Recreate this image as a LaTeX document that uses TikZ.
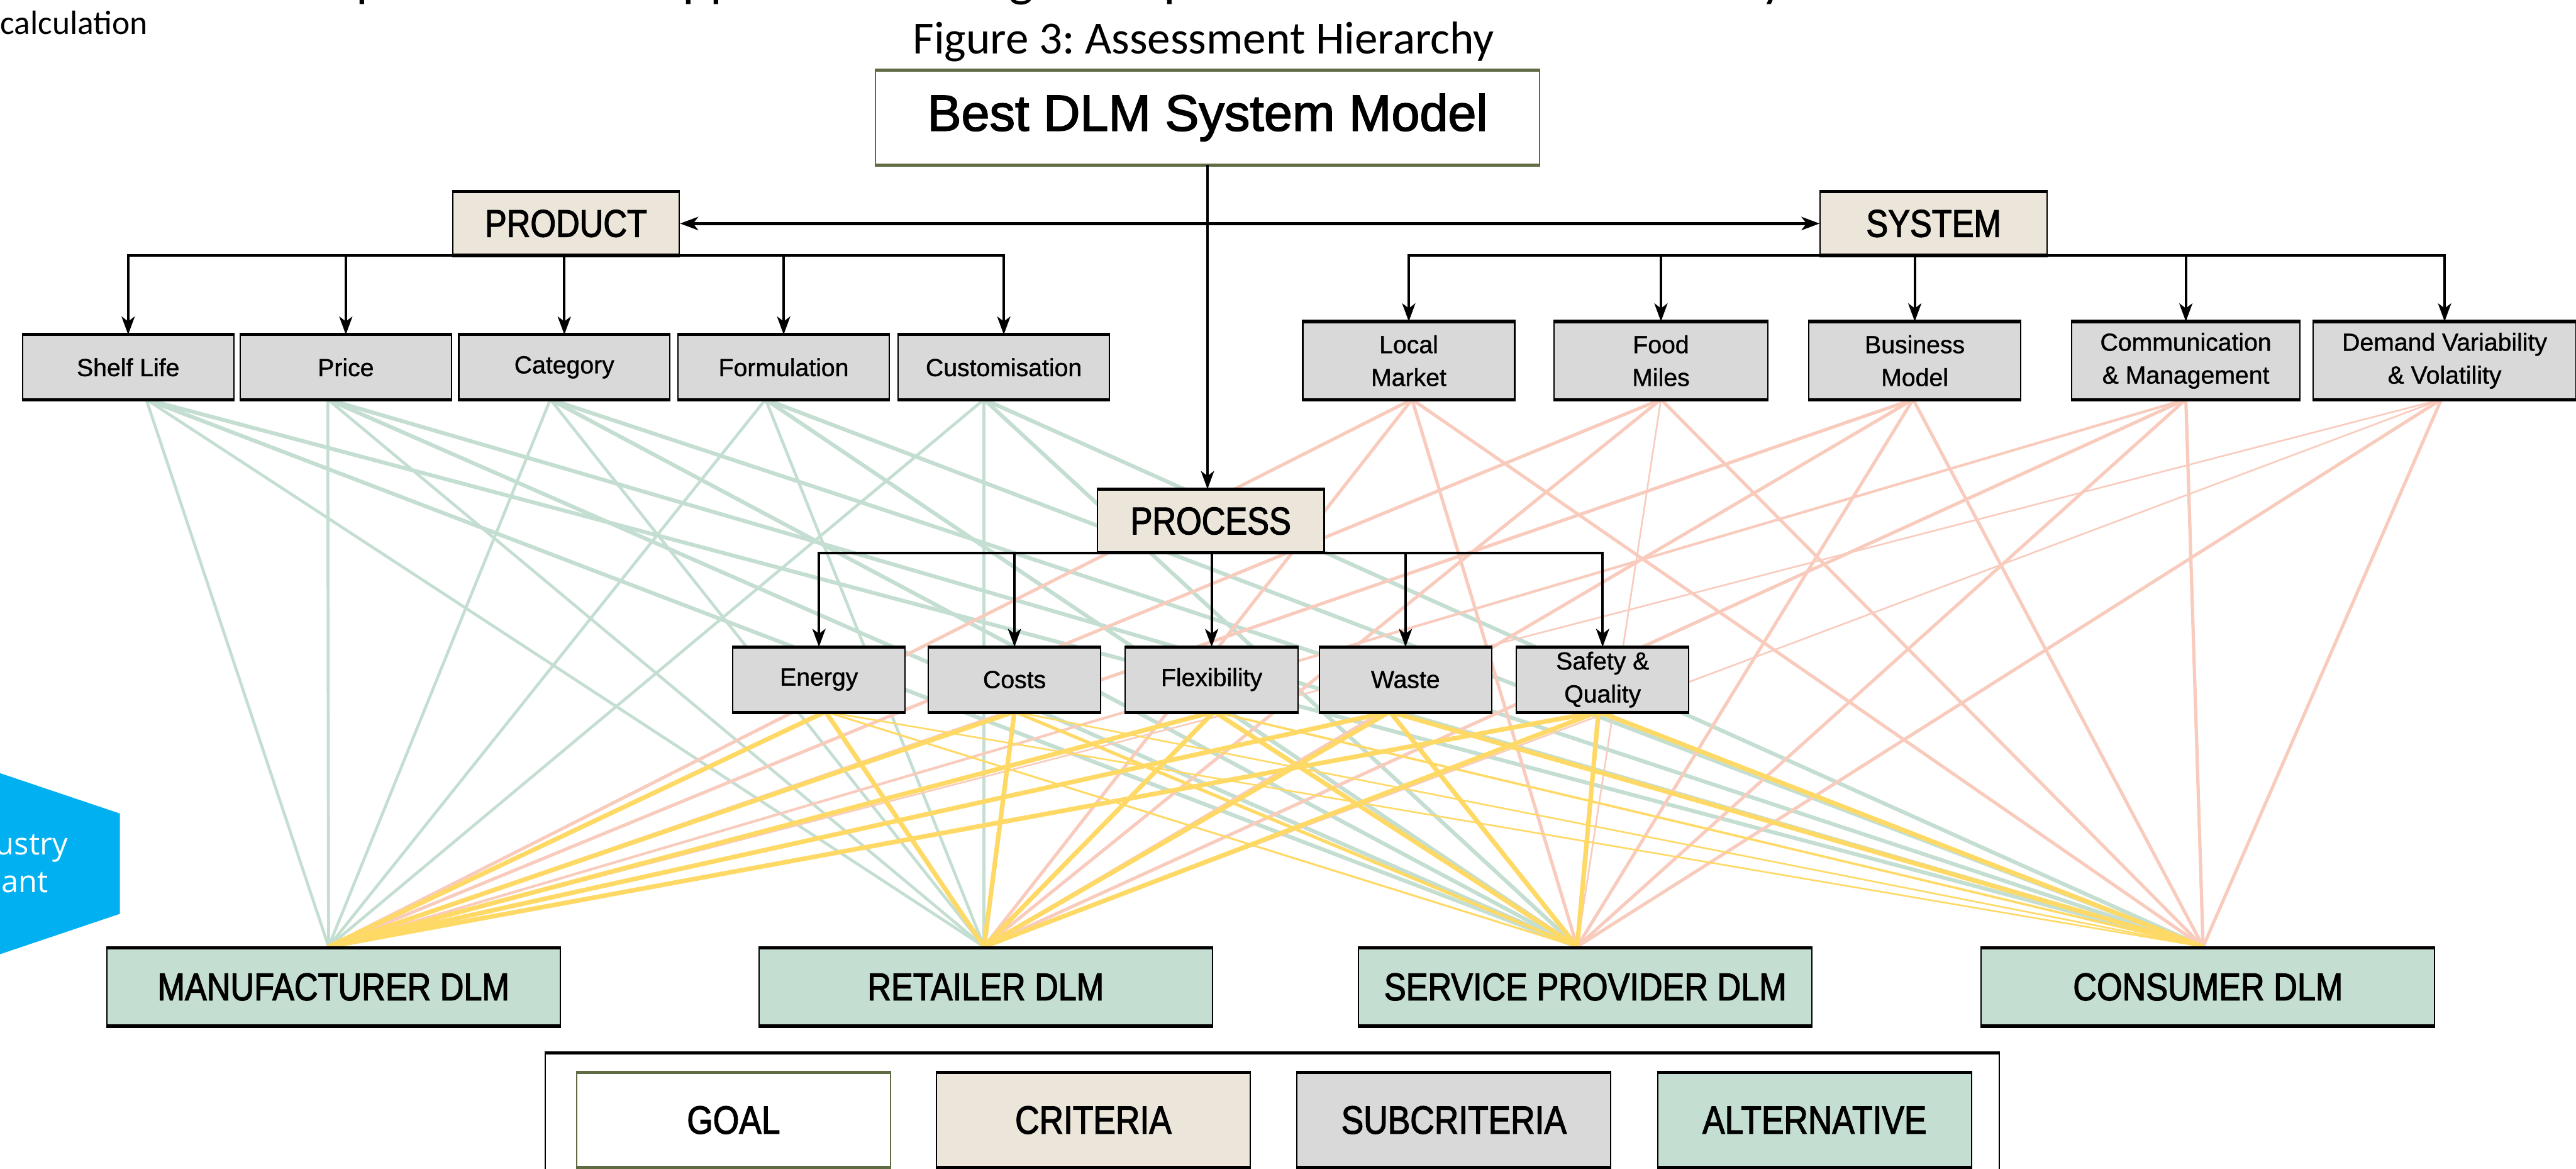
\documentclass[tikz,border=0pt]{standalone}
\usepackage{fontspec}
\usetikzlibrary{arrows.meta,calc}
\setmainfont{Liberation Sans}
\frenchspacing
\newfontfamily\arfont[FakeBold=1]{Liberation Sans}
\newfontfamily\titfont[FakeBold=2]{Liberation Sans}
\newfontfamily\narfont[FakeStretch=0.85,FakeBold=2]{Liberation Sans}
\newfontfamily\calfont{Carlito}
\newfontfamily\osfont{Open Sans}
\definecolor{olivec}{HTML}{5E6B43}
\definecolor{critfill}{HTML}{ECE6DA}
\definecolor{subfill}{HTML}{D9D9D9}
\definecolor{altfill}{HTML}{C4DED1}
\definecolor{lgreen}{HTML}{C4DED1}
\definecolor{lsalmon}{HTML}{F8CBBD}
\definecolor{lyellow}{HTML}{FFD966}
\definecolor{hexblue}{HTML}{00B0F0}
\begin{document}
\begin{tikzpicture}[x=1pt,y=-1pt,
  box/.style={draw, line width=0.8pt, inner sep=0pt, align=center},
  goalbox/.style={box, draw=olivec, fill=white, minimum width=404pt, minimum height=57pt, font=\titfont\fontsize{31}{36}\selectfont},
  critbox/.style={box, fill=critfill, minimum width=138pt, minimum height=38pt, font=\narfont\fontsize{23.5}{28}\selectfont},
  subbox/.style={box, fill=subfill, minimum height=39pt, font=\arfont\fontsize{15}{20}\selectfont},
  sysbox/.style={subbox, minimum height=47pt},
  altbox/.style={box, fill=altfill, minimum width=276pt, minimum height=47pt, font=\narfont\fontsize{23.5}{28}\selectfont},
  legbox/.style={box, minimum width=191pt, minimum height=57pt, font=\narfont\fontsize{24}{28}\selectfont},
  tree/.style={line width=1.5pt},
  arr/.style={tree, -{Stealth[length=11pt,width=8pt,inset=3pt]}},
  gline/.style={draw=lgreen},
  sline/.style={draw=lsalmon},
  yline/.style={draw=lyellow},
  frag/.style={anchor=base west, inner sep=0pt, font=\calfont\fontsize{32}{36}\selectfont}
]
\useasboundingbox (0,0) rectangle (1568,711);
\clip (0,0) rectangle (1568,711);

% cut-off text at the top
\node[frag] (d1) at (216.8,-2.5) {p};
\node[frag] (d2) at (415.3,-2.5) {pp};
\node[frag, anchor=base] (d3) at (621.7,-2.5) {g};
\node[frag] (d4) at (708,-2.5) {p};
\node[frag] (d5) at (1072,-2.5) {y};

\node[anchor=base west, inner sep=0pt, font=\calfont\fontsize{20.5}{24}\selectfont] (calc) at (0,21) {calculation};
\node[anchor=base, inner sep=0pt, font=\calfont\fontsize{28}{32}\selectfont] (caption) at (732.5,32.8) {Figure 3: Assessment Hierarchy};

% blue hexagon
\fill[hexblue] (-120,430) -- (73,495) -- (73,556) -- (-120,621) -- cycle;
\node[anchor=base east, inner sep=0pt, text=white, font=\osfont\fontsize{18.7}{22}\selectfont] (hexa) at (41.5,520) {Industry};
\node[anchor=base east, inner sep=0pt, text=white, font=\osfont\fontsize{18.7}{22}\selectfont] (hexb) at (29.5,543) {Significant};

% connector end points
\path
  coordinate (shelfO) at (89,243)
  coordinate (priceO) at (199.5,243)
  coordinate (catO) at (335,243)
  coordinate (formO) at (466,243)
  coordinate (custO) at (599,243)
  coordinate (localO) at (859.5,243)
  coordinate (foodO) at (1011,243)
  coordinate (busO) at (1164.5,243)
  coordinate (commO) at (1330.5,243)
  coordinate (demO) at (1486,243)
  coordinate (energyO) at (502.5,433)
  coordinate (costsO) at (617.5,433)
  coordinate (flexO) at (739,433)
  coordinate (wasteO) at (846,433)
  coordinate (safetyO) at (973,433)
  coordinate (manI) at (200,576)
  coordinate (retI) at (599,576)
  coordinate (servI) at (960,576)
  coordinate (consI) at (1341,576);

% green connectors (product subcriteria)
\foreach \s/\t/\w in {
  shelfO/manI/1.8, shelfO/retI/1.8, shelfO/servI/2.4, shelfO/consI/2.4,
  priceO/manI/1.8, priceO/retI/1.8, priceO/servI/2.4, priceO/consI/2.4,
  catO/manI/1.8, catO/retI/1.8, catO/servI/2.4, catO/consI/2.4,
  formO/manI/1.8, formO/retI/1.8, formO/servI/2.4, formO/consI/2.4,
  custO/manI/1.8, custO/retI/1.8, custO/servI/2.4, custO/consI/2.4}
  \draw[gline, line width=\w pt] (\s) -- (\t);

% salmon connectors (system subcriteria)
\foreach \s/\t/\w in {
  localO/manI/2, localO/retI/2, localO/servI/2, localO/consI/2,
  foodO/manI/2, foodO/retI/2, foodO/servI/1, foodO/consI/2,
  busO/manI/2, busO/retI/2, busO/servI/2, busO/consI/2,
  commO/manI/1.6, commO/retI/2, commO/servI/2, commO/consI/2,
  demO/manI/1, demO/retI/1, demO/servI/2, demO/consI/2}
  \draw[sline, line width=\w pt] (\s) -- (\t);

% yellow connectors (process subcriteria)
\foreach \s/\t/\w in {
  energyO/manI/2.8, energyO/retI/2.8, energyO/servI/1.2, energyO/consI/1,
  costsO/manI/2.8, costsO/retI/2.8, costsO/servI/2, costsO/consI/1,
  flexO/manI/2.8, flexO/retI/2.8, flexO/servI/2.8, flexO/consI/1.4,
  wasteO/manI/2.8, wasteO/retI/2.8, wasteO/servI/2.8, wasteO/consI/2.8,
  safetyO/manI/2.8, safetyO/retI/2.8, safetyO/servI/2.8, safetyO/consI/2.8}
  \draw[yline, line width=\w pt] (\s) -- (\t);

% boxes
\node[goalbox] (goal) at (735,71.5) {Best DLM System Model};
\node[critbox] (product) at (344.5,136) {PRODUCT};
\node[critbox] (system) at (1177,136) {SYSTEM};
\node[critbox] (process) at (737,317) {PROCESS};

\node[subbox, minimum width=128.5pt] (shelf) at (78,223.5) {Shelf Life};
\node[subbox, minimum width=128.5pt] (price) at (210.5,223.5) {Price};
\node[subbox, minimum width=128.5pt] (cat) at (343.5,223.5) {Category};
\node[subbox, minimum width=128.5pt] (form) at (477,223.5) {Formulation};
\node[subbox, minimum width=128.5pt] (cust) at (611,223.5) {Customisation};

\node[sysbox, minimum width=129pt] (local) at (857.5,219.5) {Local\\Market};
\node[sysbox, minimum width=130pt] (food) at (1011,219.5) {Food\\Miles};
\node[sysbox, minimum width=129pt] (bus) at (1165.5,219.5) {Business\\Model};
\node[sysbox, minimum width=139pt] (comm) at (1330.5,219.5) {Communication\\\& Management};
\node[sysbox, minimum width=160pt] (dem) at (1488,219.5) {Demand Variability\\\& Volatility};

\node[subbox, minimum width=105pt] (energy) at (498.5,413.5) {Energy};
\node[subbox, minimum width=105pt] (costs) at (617.5,413.5) {Costs};
\node[subbox, minimum width=105pt] (flex) at (737.5,413.5) {Flexibility};
\node[subbox, minimum width=105pt] (waste) at (855.5,413.5) {Waste};
\node[subbox, minimum width=105pt] (safety) at (975.5,413.5) {Safety \&\\Quality};

\node[altbox] (man) at (203,600.5) {MANUFACTURER DLM};
\node[altbox] (ret) at (600,600.5) {RETAILER DLM};
\node[altbox] (serv) at (965,600.5) {SERVICE PROVIDER DLM};
\node[altbox] (cons) at (1344,600.5) {CONSUMER DLM};

% legend
\node[draw, line width=0.8pt, minimum width=885pt, minimum height=100pt, inner sep=0pt] (legend) at (774.5,691) {};
\node[legbox, draw=olivec, fill=white] (lgoal) at (446.5,681.5) {GOAL};
\node[legbox, fill=critfill] (lcrit) at (665.5,681.5) {CRITERIA};
\node[legbox, fill=subfill] (lsub) at (885,681.5) {SUBCRITERIA};
\node[legbox, fill=altfill] (lalt) at (1104.5,681.5) {ALTERNATIVE};

% thick top and bottom bars
\foreach \n in {product,system,process,shelf,price,cat,form,cust,local,food,bus,comm,dem,energy,costs,flex,waste,safety,man,ret,serv,cons,lcrit,lsub,lalt}
  \draw[line width=2pt] (\n.north west) -- (\n.north east) (\n.south west) -- (\n.south east);
\foreach \n in {goal,lgoal}
  \draw[olivec, line width=2pt] (\n.north west) -- (\n.north east) (\n.south west) -- (\n.south east);
\draw[line width=2pt] (legend.north west) -- (legend.north east);

% hierarchy connectors
\draw[arr] (goal.south) -- (goal.south |- process.north);
\draw[line width=2pt, {Stealth[length=11pt,width=8pt,inset=3pt]}-{Stealth[length=11pt,width=8pt,inset=3pt]}] (product.east) -- (system.west);

\draw[tree, line cap=rect] (shelf.north |- product.south) -- (cust.north |- product.south);
\foreach \n in {shelf,price,cat,form,cust}
  \draw[arr] (\n.north |- product.south) -- (\n.north);

\draw[tree, line cap=rect] (local.north |- system.south) -- (dem.north |- system.south);
\foreach \n in {local,food,bus,comm,dem}
  \draw[arr] (\n.north |- system.south) -- (\n.north);

\draw[tree, line cap=rect] (energy.north |- process.south) -- (safety.north |- process.south);
\foreach \n in {energy,costs,flex,waste,safety}
  \draw[arr] (\n.north |- process.south) -- (\n.north);
\end{tikzpicture}
\end{document}
